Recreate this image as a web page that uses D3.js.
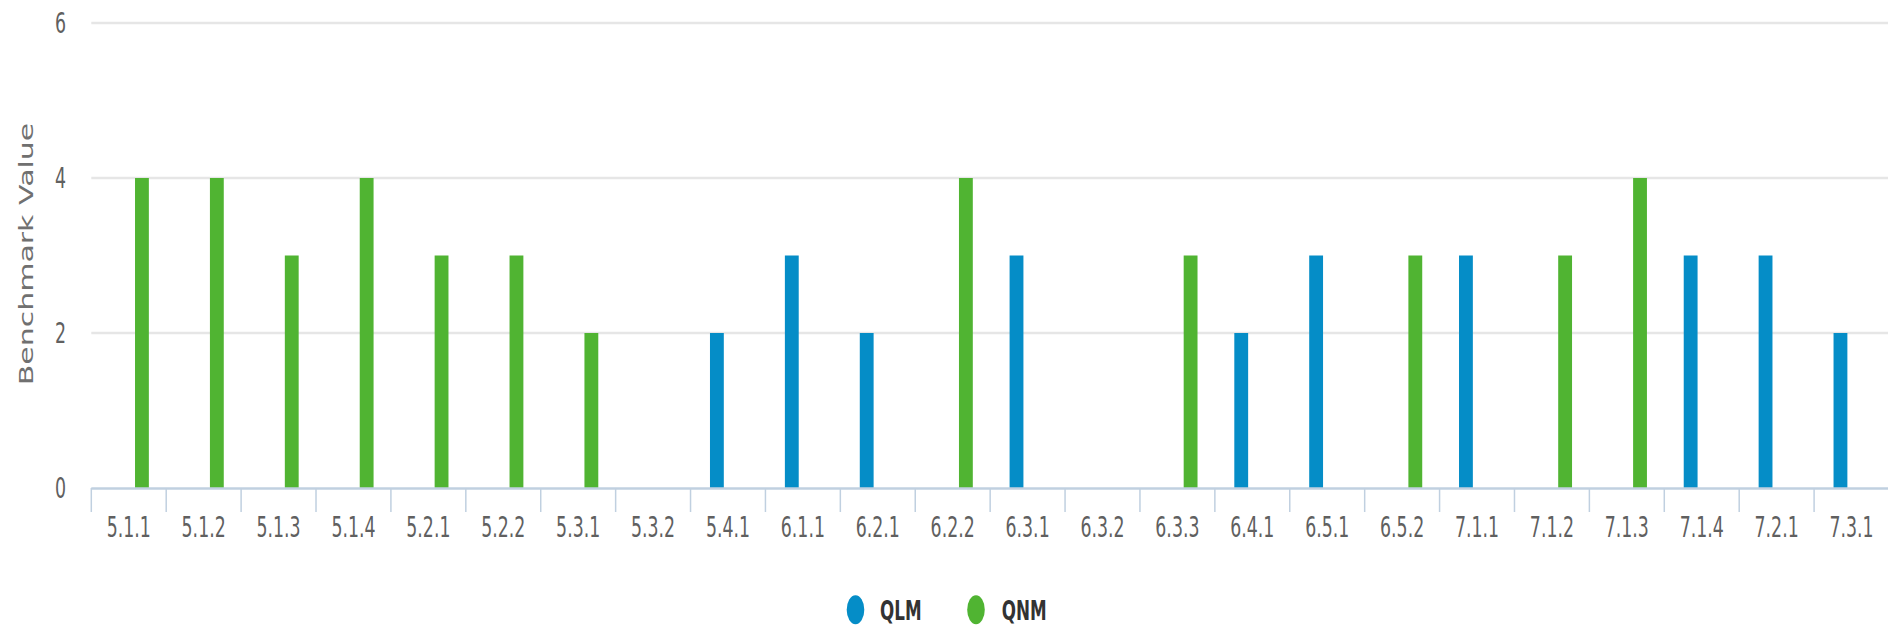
<!DOCTYPE html>
<html>
<head>
<meta charset="utf-8">
<script src="https://cdn.jsdelivr.net/npm/d3@7"></script>
<style>
  html, body { margin: 0; padding: 0; background: #fff; }
  svg { display: block; }
</style>
</head>
<body>
<svg id="chart" width="1888" height="637"></svg>
<script>
// ---- data ----
const categories = ["5.1.1","5.1.2","5.1.3","5.1.4","5.2.1","5.2.2","5.3.1","5.3.2","5.4.1","6.1.1","6.2.1","6.2.2","6.3.1","6.3.2","6.3.3","6.4.1","6.5.1","6.5.2","7.1.1","7.1.2","7.1.3","7.1.4","7.2.1","7.3.1"];
const seriesNames = ["QLM","QNM"];
const qlmValues = [null,null,null,null,null,null,null,null,2,3,2,null,3,null,null,2,3,null,3,null,null,3,3,2];
const qnmValues = [4,4,3,4,3,3,2,null,null,null,null,4,null,null,3,null,null,3,null,3,4,null,null,null];
const yTicks = [0,2,4,6];
const yTitle = "Benchmark Value";
const colors = {QLM: "#058DC7", QNM: "#50B432"};

// ---- layout ----
const W = 1888, H = 637;
const plot = {left: 91.3, right: 1889, top: 23, bottom: 488};
const SX = 0.62; // horizontal squeeze of the original rendering
const FONT = "'DejaVu Sans', Verdana, sans-serif";

const svg = d3.select("#chart");

const x = d3.scaleBand().domain(categories).range([plot.left, plot.right]).padding(0);
const xInner = d3.scaleBand().domain(seriesNames).range([9, 68]).padding(0.43);
const y = d3.scaleLinear().domain([0, 6]).range([plot.bottom, plot.top]);

// gridlines
svg.append("g").selectAll("line").data(yTicks.filter(d => d !== 0)).join("line")
  .attr("x1", plot.left).attr("x2", W)
  .attr("y1", d => y(d)).attr("y2", d => y(d))
  .attr("stroke", "#e6e6e6").attr("stroke-width", 2.5);

// bars
const rows = [];
categories.forEach((c, i) => {
  if (qlmValues[i] != null) rows.push({cat: c, s: "QLM", v: qlmValues[i]});
  if (qnmValues[i] != null) rows.push({cat: c, s: "QNM", v: qnmValues[i]});
});
svg.append("g").selectAll("rect").data(rows).join("rect")
  .attr("x", d => x(d.cat) + xInner(d.s))
  .attr("width", xInner.bandwidth())
  .attr("y", d => y(d.v))
  .attr("height", d => y(0) - y(d.v))
  .attr("fill", d => colors[d.s]);

// x axis
const xAxis = svg.append("g").attr("transform", `translate(0,${plot.bottom})`);
xAxis.append("line").attr("x1", plot.left).attr("x2", W).attr("y1", 0.5).attr("y2", 0.5)
  .attr("stroke", "#C0D0E0").attr("stroke-width", 2.5);
const tickPos = categories.map(c => x(c));
xAxis.selectAll("line.tick").data(tickPos).join("line").attr("class", "tick")
  .attr("x1", d => d).attr("x2", d => d).attr("y1", 0).attr("y2", 24)
  .attr("stroke", "#C0D0E0").attr("stroke-width", 1.5);
xAxis.selectAll("text").data(categories).join("text")
  .attr("transform", d => `translate(${x(d) + x.bandwidth() / 2},49) scale(${SX},1)`)
  .attr("text-anchor", "middle")
  .attr("font-family", FONT).attr("font-size", 28).attr("fill", "#606060")
  .text(d => d);

// y axis labels
svg.append("g").selectAll("text").data(yTicks).join("text")
  .attr("transform", d => `translate(66,${y(d) + 10}) scale(${SX},1)`)
  .attr("text-anchor", "end")
  .attr("font-family", FONT).attr("font-size", 28).attr("fill", "#606060")
  .text(d => d);

// y title
svg.append("text")
  .attr("transform", `translate(33,254) scale(${SX},1) rotate(-90)`)
  .attr("text-anchor", "middle")
  .attr("font-family", FONT).attr("font-size", 30).attr("fill", "#707070")
  .text(yTitle);

// legend
const legendItems = [{name: "QLM", cx: 855.5, tx: 880}, {name: "QNM", cx: 976, tx: 1001.7}];
const lg = svg.append("g");
lg.selectAll("ellipse").data(legendItems).join("ellipse")
  .attr("cx", d => d.cx).attr("cy", 609.7).attr("rx", 8.8).attr("ry", 14.5)
  .attr("fill", d => colors[d.name]);
lg.selectAll("text").data(legendItems).join("text")
  .attr("transform", d => `translate(${d.tx},620) scale(${SX},1)`)
  .attr("font-family", FONT).attr("font-size", 27).attr("font-weight", "bold").attr("fill", "#333")
  .text(d => d.name);
</script>
</body>
</html>
